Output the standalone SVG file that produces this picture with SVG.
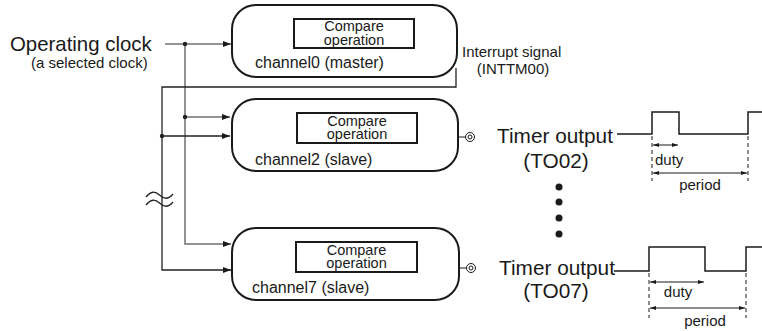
<svg xmlns="http://www.w3.org/2000/svg" width="762" height="331" viewBox="0 0 762 331">
<style>
text{font-family:"Liberation Sans",Arial,sans-serif;fill:#1a1a1a}
.box{fill:#fff;stroke:#1a1a1a;stroke-width:2}
.inner{fill:#fff;stroke:#1a1a1a;stroke-width:2}
.g{fill:none;stroke:#707070;stroke-width:1.5}
.k{fill:none;stroke:#222;stroke-width:1.3}
.w{fill:none;stroke:#1a1a1a;stroke-width:1.5}
.d{fill:none;stroke:#1a1a1a;stroke-width:1;stroke-dasharray:4,3}
.a{fill:none;stroke:#1a1a1a;stroke-width:1}
.cmp{font-size:14.5px}
.c15{font-size:15px}
.c16{font-size:16px}
.c20{font-size:20.8px}
.clk{font-size:20.4px}
</style>
<defs>
<marker id="arr" viewBox="0 0 8 6" refX="8" refY="3" markerWidth="8" markerHeight="6" markerUnits="userSpaceOnUse" orient="auto">
<path d="M0,0 L8,3 L0,6 z" fill="#1a1a1a"/>
</marker>
<marker id="sa" viewBox="0 0 6 4" refX="6" refY="2" markerWidth="6" markerHeight="4" markerUnits="userSpaceOnUse" orient="auto-start-reverse">
<path d="M0,0 L6,2 L0,4 z" fill="#1a1a1a"/>
</marker>
</defs>

<g id="connectors">
<path class="g" d="M165,44 H231" marker-end="url(#arr)"/>
<path class="g" d="M185,44 V244 H231" marker-end="url(#arr)"/>
<path class="g" d="M185,117 H230" marker-end="url(#arr)"/>
<circle cx="185" cy="44" r="2.2" fill="#222"/>
<circle cx="185" cy="117" r="2.2" fill="#222"/>
<path class="k" d="M456,68 V87 H162 V270 H231" marker-end="url(#arr)"/>
<path class="k" d="M162,136 H230" marker-end="url(#arr)"/>
<circle cx="162" cy="136" r="2.2" fill="#222"/>
<path class="k" d="M146,197 C151,191 155,191 159.5,195 S168,200 173,194"/>
<path class="k" d="M146,205 C151,199 155,199 159.5,203 S168,208 173,202"/>
<path class="a" d="M458,137 H465.5"/>
<circle cx="470" cy="137" r="4.5" class="a" fill="#fff"/>
<circle cx="470" cy="137" r="2" class="a"/>
<path class="a" d="M459,268 H466.5"/>
<circle cx="471" cy="268" r="4.5" class="a" fill="#fff"/>
<circle cx="471" cy="268" r="2" class="a"/>
</g>

<g id="clock">
<text class="clk" x="10" y="50.5">Operating clock</text>
<text class="c15" x="31" y="67.5">(a selected clock)</text>
</g>

<g id="channel0">
<rect class="box" x="232" y="5" width="225" height="72" rx="24"/>
<rect class="inner" x="294" y="19" width="120" height="29"/>
<text class="cmp" x="354" y="31" text-anchor="middle">Compare</text>
<text class="cmp" x="354" y="44.5" text-anchor="middle">operation</text>
<text class="c16" x="255" y="68">channel0 (master)</text>
</g>

<g id="interrupt">
<text class="c15" x="462" y="57">Interrupt signal</text>
<text class="c15" x="513" y="74" text-anchor="middle">(INTTM00)</text>
</g>

<g id="channel2">
<rect class="box" x="232" y="99" width="226" height="72" rx="24"/>
<rect class="inner" x="297" y="113" width="120" height="30"/>
<text class="cmp" x="357" y="125.5" text-anchor="middle">Compare</text>
<text class="cmp" x="357" y="139" text-anchor="middle">operation</text>
<text class="c16" x="255" y="165">channel2 (slave)</text>
</g>

<g id="channel7">
<rect class="box" x="232" y="228" width="227" height="72" rx="24"/>
<rect class="inner" x="296" y="242" width="121" height="30"/>
<text class="cmp" x="356.5" y="254.5" text-anchor="middle">Compare</text>
<text class="cmp" x="356.5" y="268" text-anchor="middle">operation</text>
<text class="c16" x="252" y="293">channel7 (slave)</text>
</g>

<g id="to02">
<text class="c20" x="497" y="143">Timer output</text>
<text class="c20" x="556" y="168" text-anchor="middle">(TO02)</text>
<path class="w" d="M617,134 H652 V112 H679 V134 H748 V112 H762"/>
<path class="d" d="M652,136 V181 M748,136 V181"/>
<path class="a" d="M653,145 H678" marker-start="url(#sa)" marker-end="url(#sa)"/>
<path class="a" d="M653,173 H747" marker-start="url(#sa)" marker-end="url(#sa)"/>
<text class="c15" x="655" y="165">duty</text>
<text class="c15" x="700" y="190" text-anchor="middle">period</text>
</g>

<g id="dots">
<circle cx="559" cy="187" r="3.5" fill="#1a1a1a"/>
<circle cx="559" cy="202" r="3.5" fill="#1a1a1a"/>
<circle cx="559" cy="218" r="3.5" fill="#1a1a1a"/>
<circle cx="559" cy="234" r="3.5" fill="#1a1a1a"/>
</g>

<g id="to07">
<text class="c20" x="499" y="275">Timer output</text>
<text class="c20" x="556" y="298" text-anchor="middle">(TO07)</text>
<path class="w" d="M614,271 H649 V247 H705 V271 H746 V247 H762"/>
<path class="d" d="M649,273 V318 M746,273 V318"/>
<path class="a" d="M650,282 H704" marker-start="url(#sa)" marker-end="url(#sa)"/>
<path class="a" d="M650,308 H745" marker-start="url(#sa)" marker-end="url(#sa)"/>
<text class="c15" x="678" y="297" text-anchor="middle">duty</text>
<text class="c15" x="705" y="326" text-anchor="middle">period</text>
</g>
</svg>
